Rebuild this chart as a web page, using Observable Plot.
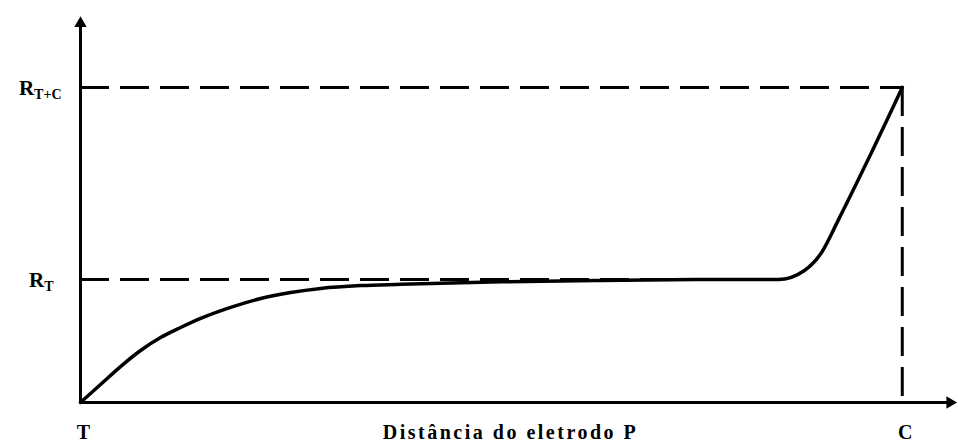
<!DOCTYPE html>
<html>
<head>
<meta charset="utf-8">
<script src="https://cdn.jsdelivr.net/npm/d3@7"></script>
<script src="https://cdn.jsdelivr.net/npm/@observablehq/plot@0.6"></script>
<style>
  html, body { margin: 0; padding: 0; background: #fff; }
</style>
</head>
<body>
<div id="chart"></div>
<script>
// Distance of electrode P (T = 0, C = 100) and measured resistance (R_T+C = 1)
const distance   = [0, 2.44, 4.87, 7.31, 9.74, 12.18, 14.62, 18.27, 21.92, 25.58, 29.23, 34.1, 39.0, 51.2, 63.3, 75.5, 84.9, 88.1, 90.1, 92.2, 94.2, 96.2, 98.3, 100];
const resistance = [0, 0.057, 0.114, 0.165, 0.206, 0.238, 0.267, 0.302, 0.330, 0.349, 0.362, 0.371, 0.375, 0.383, 0.387, 0.390, 0.390, 0.419, 0.473, 0.578, 0.683, 0.790, 0.905, 1.0];

const rT = 0.39;       // R_T plateau level
const rTC = 1.0;       // R_T+C level
const xC = 100;        // position of electrode C
const plateauEnd = 84.9;

const yTickMain = ["R", "R"];
const yTickSub = ["T", "T+C"];
const yTickValues = [rT, rTC];
const xTickLabels = ["T", "C"];
const xTickValues = [0, xC];
const xTitle = "Distância do eletrodo P";

const xAxisEnd = 105.8, xMax = 106.6;
const yAxisEnd = 1.203, yMax = 1.225;

const curve = distance.map((d, i) => ({x: d, y: resistance[i]}));
const yTicks = yTickValues.map((v, i) => ({y: v, label: yTickMain[i] + "_" + yTickSub[i]}));
const xTicks = xTickValues.map((v, i) => ({x: v, label: xTickLabels[i]}));

const font = "'Liberation Serif', 'Times New Roman', serif";
const dash = "29,11";

const plot = Plot.plot({
  width: 958,
  height: 442,
  marginLeft: 80,
  marginRight: 2,
  marginTop: 16,
  marginBottom: 40,
  x: {domain: [0, xMax], axis: null},
  y: {domain: [0, yMax], axis: null},
  style: {fontFamily: font, fontWeight: "bold", fontSize: "19px", background: "#fff", color: "#000", overflow: "visible"},
  marks: [
    // dashed reference lines
    Plot.ruleY([rTC], {x1: 0, x2: xC, stroke: "#000", strokeWidth: 3, strokeDasharray: dash}),
    Plot.ruleY([rT], {x1: 0, x2: plateauEnd, stroke: "#000", strokeWidth: 3, strokeDasharray: dash}),
    Plot.ruleX([xC], {y1: rTC, y2: 0, stroke: "#000", strokeWidth: 3, strokeDasharray: dash}),
    // axes
    Plot.ruleY([0], {x1: 0, x2: xAxisEnd, stroke: "#000", strokeWidth: 3}),
    Plot.ruleX([0], {y1: 0, y2: yAxisEnd, stroke: "#000", strokeWidth: 3}),
    Plot.dot([{x: xAxisEnd, y: 0}], {x: "x", y: "y", symbol: "triangle", r: 4.6, rotate: 90, fill: "#000", stroke: "none"}),
    Plot.dot([{x: 0, y: yAxisEnd}], {x: "x", y: "y", symbol: "triangle", r: 4.6, fill: "#000", stroke: "none"}),
    // curve
    Plot.line(curve, {x: "x", y: "y", curve: "monotone-x", stroke: "#000", strokeWidth: 3.5}),
    // y tick labels
    Plot.text(yTicks.filter(d => d.y === rTC), {x: () => 0, y: "y", text: "label", textAnchor: "end", dx: -19, dy: 2, fill: "#000"}),
    Plot.text(yTicks.filter(d => d.y === rT), {x: () => 0, y: "y", text: "label", textAnchor: "end", dx: -27, dy: 1, fill: "#000"}),
    // x tick labels
    Plot.text(xTicks, {x: "x", y: () => 0, text: "label", lineAnchor: "top", dy: 22, dx: 3, fill: "#000", fontSize: 20}),
    // x title
    Plot.text([xTitle], {frameAnchor: "bottom", lineAnchor: "top", dy: 22, dx: -8, fill: "#000", fontSize: 20})
  ]
});

// subscripts for R_T and R_T+C
d3.select(plot).selectAll("text").each(function() {
  const t = d3.select(this);
  const s = this.textContent;
  if (s.includes("_")) {
    const [main, sub] = s.split("_");
    t.text(null);
    t.append("tspan").text(main).attr("font-size", 21);
    t.append("tspan").text(sub).attr("font-size", 14).attr("dy", 4);
  }
});
// widen title to match
d3.select(plot).selectAll("text").filter(function() { return this.textContent === xTitle; })
  .attr("letter-spacing", "2.5px");

document.getElementById("chart").appendChild(plot);
</script>
</body>
</html>
